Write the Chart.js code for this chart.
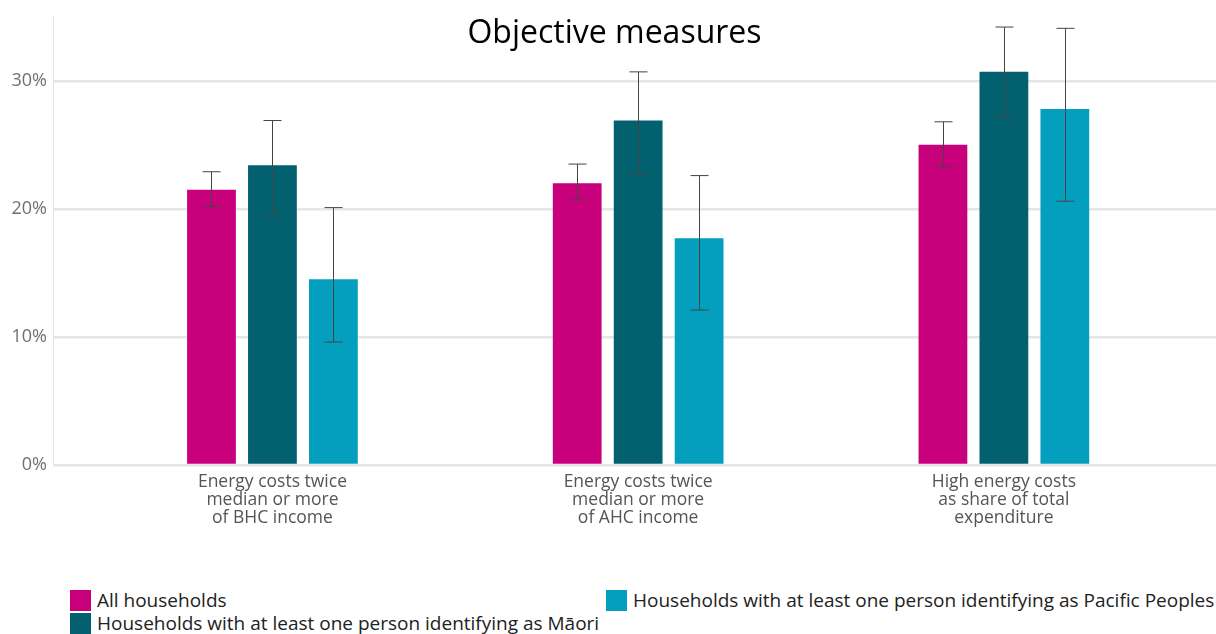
<!DOCTYPE html>
<html lang="en">
<head>
    <meta charset="UTF-8">
    <title>Objective measures</title>
    <script src="https://cdn.jsdelivr.net/npm/chart.js"></script>
    <style>
        body {
          margin: 0;
          background: #fff;
          font-family: "Open Sans", Arial, sans-serif;
        }
        .wrap {
          position: relative;
          width: 1216px;
          height: 634px;
          overflow: hidden;
        }
        .title {
          position: absolute;
          top: 15px;
          left: 0;
          width: 1229px;
          text-align: center;
          font-size: 32px;
          line-height: 1;
          color: #000;
        }
        .legend .item {
          position: absolute;
          font-size: 19px;
          color: #222;
          white-space: nowrap;
          line-height: 21px;
        }
        .legend .box {
          display: inline-block;
          width: 21px;
          height: 21px;
          vertical-align: top;
          margin-right: 6px;
        }
    </style>
</head>
<body>
<div class="wrap">
    <canvas id="myChart" width="1216" height="580"></canvas>
    <div class="title">Objective measures</div>
    <div class="legend" id="legend"></div>
</div>

<script>
    // categories (x axis)
    const categories = [
        ['Energy costs twice', 'median or more', 'of BHC income'],
        ['Energy costs twice', 'median or more', 'of AHC income'],
        ['High energy costs', 'as share of total', 'expenditure']
    ];
    const seriesNames = [
        'All households',
        'Households with at least one person identifying as Māori',
        'Households with at least one person identifying as Pacific Peoples'
    ];
    const seriesColors = ['#c8007b', '#03606f', '#049fbe'];

    // values in percent
    const allHouseholds = [21.5, 22.0, 25.0];
    const maori = [23.4, 26.9, 30.7];
    const pacific = [14.5, 17.7, 27.8];

    // error bars (low / high)
    const allLow = [20.2, 20.7, 23.3];
    const allHigh = [22.9, 23.5, 26.8];
    const maoriLow = [19.6, 22.7, 27.2];
    const maoriHigh = [26.9, 30.7, 34.2];
    const pacificLow = [9.6, 12.1, 20.6];
    const pacificHigh = [20.1, 22.6, 34.1];

    const yTicks = [0, 10, 20, 30];

    const seriesValues = [allHouseholds, maori, pacific];
    const errLow = [allLow, maoriLow, pacificLow];
    const errHigh = [allHigh, maoriHigh, pacificHigh];

    // draw the error bars on top of the bars
    const errorBars = {
        id: 'errorBars',
        afterDatasetsDraw(chart) {
            const ctx = chart.ctx;
            const y = chart.scales.y;
            ctx.save();
            ctx.strokeStyle = '#444';
            ctx.lineWidth = 1;
            chart.data.datasets.forEach((ds, d) => {
                const meta = chart.getDatasetMeta(d);
                meta.data.forEach((bar, i) => {
                    const x = Math.round(bar.x) + 0.5;
                    const top = y.getPixelForValue(errHigh[d][i]);
                    const bot = y.getPixelForValue(errLow[d][i]);
                    ctx.beginPath();
                    ctx.moveTo(x, top);
                    ctx.lineTo(x, bot);
                    ctx.moveTo(x - 9, top);
                    ctx.lineTo(x + 9, top);
                    ctx.moveTo(x - 9, bot);
                    ctx.lineTo(x + 9, bot);
                    ctx.stroke();
                });
            });
            ctx.restore();
        }
    };

    const ctx = document.getElementById('myChart').getContext('2d');
    const myChart = new Chart(ctx, {
        type: 'bar',
        data: {
            datasets: seriesValues.map((vals, d) => ({
                label: seriesNames[d],
                data: vals.map((v, i) => ({ x: i, y: v })),
                backgroundColor: seriesColors[d],
                borderWidth: 0,
                categoryPercentage: 0.5,
                barPercentage: 0.8
            }))
        },
        options: {
            responsive: false,
            animation: false,
            layout: { padding: { top: 13.5, left: 0, right: 0, bottom: 0 } },
            plugins: {
                legend: { display: false },
                tooltip: { enabled: false }
            },
            scales: {
                x: {
                    type: 'linear',
                    offset: false,
                    min: -0.6,
                    max: 2.58,
                    grid: { display: false },
                    border: { display: false },
                    afterBuildTicks: s => {
                        s.ticks = categories.map((c, i) => ({ value: i }));
                    },
                    afterFit: s => { s.height = 115; },
                    ticks: {
                        autoSkip: false,
                        maxRotation: 0,
                        padding: 0,
                        color: '#555',
                        font: { family: 'Open Sans', size: 17.5, lineHeight: 1.03 },
                        callback: v => categories[v]
                    }
                },
                y: {
                    min: 0,
                    max: 35,
                    afterBuildTicks: s => {
                        s.ticks = yTicks.map(v => ({ value: v }));
                    },
                    afterFit: s => { s.width = 53; },
                    grid: {
                        color: '#e6e6e6',
                        lineWidth: 2.5,
                        drawTicks: false
                    },
                    border: { display: true, color: '#e3e3e3', width: 1 },
                    ticks: {
                        padding: 6,
                        color: '#707070',
                        font: { family: 'Open Sans', size: 18 },
                        callback: v => v + '%'
                    }
                }
            }
        },
        plugins: [errorBars]
    });

    // legend laid out in two columns like the original
    const legendPos = [[70, 590], [70, 613], [606, 590]];
    const legend = document.getElementById('legend');
    seriesNames.forEach((name, d) => {
        const item = document.createElement('div');
        item.className = 'item';
        item.style.left = legendPos[d][0] + 'px';
        item.style.top = legendPos[d][1] + 'px';
        item.innerHTML = '<span class="box" style="background:' + seriesColors[d] + '"></span>' + name;
        legend.appendChild(item);
    });
</script>
</body>
</html>
